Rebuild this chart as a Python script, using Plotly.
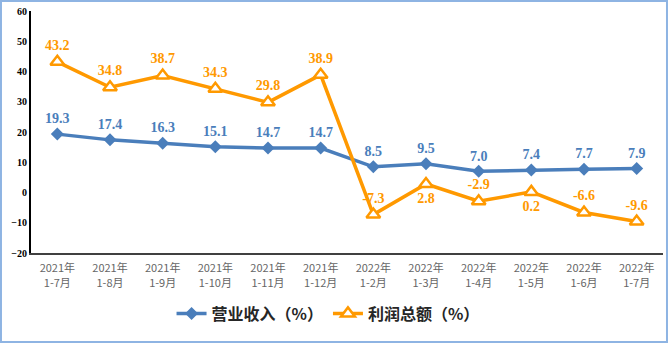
import plotly.graph_objects as go

categories = ["2021年<br>1-7月", "2021年<br>1-8月", "2021年<br>1-9月", "2021年<br>1-10月",
              "2021年<br>1-11月", "2021年<br>1-12月", "2022年<br>1-2月", "2022年<br>1-3月",
              "2022年<br>1-4月", "2022年<br>1-5月", "2022年<br>1-6月", "2022年<br>1-7月"]
revenue = [19.3, 17.4, 16.3, 15.1, 14.7, 14.7, 8.5, 9.5, 7.0, 7.4, 7.7, 7.9]
profit = [43.2, 34.8, 38.7, 34.3, 29.8, 38.9, -7.3, 2.8, -2.9, 0.2, -6.6, -9.6]
profit_pos = ["top center"] * 7 + ["bottom center", "top center", "bottom center", "top center", "top center"]

blue = "#4A7EBB"
orange = "#FF9900"
serif = "Liberation Serif, Times New Roman, serif"
cjk = "Noto Sans CJK SC, sans-serif"

fig = go.Figure()
fig.add_trace(go.Scatter(
    x=categories, y=revenue, name="营业收入（%）", mode="lines+markers+text",
    line=dict(color=blue, width=3.5),
    marker=dict(symbol="diamond", size=10, color=blue),
    text=[f"{v:.1f}" for v in revenue], textposition="top center",
    textfont=dict(family=serif, size=14, color=blue, weight="bold"),
    cliponaxis=False,
))
fig.add_trace(go.Scatter(
    x=categories, y=profit, name="利润总额（%）", mode="lines+markers+text",
    line=dict(color=orange, width=3.5),
    marker=dict(symbol="triangle-up", size=12, color="white", line=dict(color=orange, width=2.5)),
    text=[f"{v:.1f}" for v in profit], textposition=profit_pos,
    textfont=dict(family=serif, size=14, color=orange, weight="bold"),
    cliponaxis=False,
))

fig.update_layout(
    width=668, height=343,
    margin=dict(l=31, r=5, t=11, b=90),
    paper_bgcolor="white", plot_bgcolor="white",
    showlegend=True,
    legend=dict(orientation="h", x=0.47, xanchor="center", y=-0.25, yanchor="middle",
                font=dict(family=cjk, size=16, color="#262626", weight="bold"),
                itemwidth=30),
    xaxis=dict(type="category", range=[-0.5, 11.5], showgrid=False, showline=True,
               linecolor="#404040", linewidth=2, ticks="", ticklabelstandoff=4,
               tickfont=dict(family=cjk, size=11, color="#666666"), fixedrange=True),
    yaxis=dict(range=[-20, 60], dtick=10, showgrid=False, zeroline=False, showline=True,
               linecolor="#000000", linewidth=2, ticks="",
               tickfont=dict(family=serif, size=10, color="#000000", weight="bold")),
    shapes=[dict(type="rect", xref="paper", yref="paper",
                 x0=-0.0475, x1=1.0063, y0=-0.3678, y1=1.0413,
                 line=dict(color="#8EB4E3", width=2), fillcolor="rgba(0,0,0,0)")],
)

fig.write_html("out.html")
